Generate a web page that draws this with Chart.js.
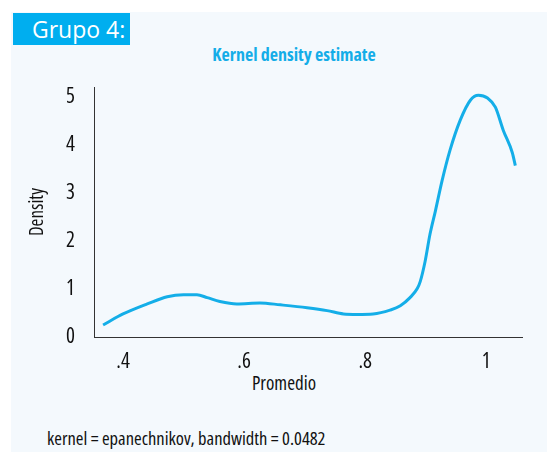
<!DOCTYPE html>
<html>
<head>
<meta charset="utf-8">
<script src="https://cdn.jsdelivr.net/npm/chart.js@4/dist/chart.umd.min.js"></script>
<style>
  html, body { margin: 0; padding: 0; background: #ffffff; }
  #wrap { position: relative; width: 547px; height: 457px; overflow: hidden; }
  #panel { position: absolute; left: 11px; top: 12px; width: 536px; height: 440px; background: #f4f9fd; }
  #tag { position: absolute; left: 13px; top: 13px; width: 117px; height: 32px; background: #00aeef; white-space: nowrap;
         color: #fff; font: 23px "Open Sans", sans-serif; line-height: 32px;
         box-sizing: border-box; padding-left: 19px; }
  .txt { position: absolute; font-family: "Open Sans", sans-serif; font-stretch: condensed; white-space: nowrap; }
  #title { left: 144px; width: 300px; top: 44px; text-align: center; line-height: 20px;
           color: #14ade8; font-size: 18px; font-weight: bold; }
  #xlab { left: 184px; width: 200px; top: 373px; text-align: center; line-height: 20px; color: #111; font-size: 19px; }
  #note { left: 47px; top: 428px; line-height: 20px; color: #111; font-size: 18.5px; }
  canvas { position: absolute; left: 0; top: 0; }
</style>
</head>
<body>
<div id="wrap">
  <div id="panel"></div>
  <div id="tag">Grupo 4:</div>
  <div id="title" class="txt">Kernel density estimate</div>
  <div id="xlab" class="txt">Promedio</div>
  <div id="note" class="txt">kernel = epanechnikov, bandwidth = 0.0482</div>
  <canvas id="kde" width="547" height="457"></canvas>
</div>
<script>
// values
const promedio = [0.367, 0.40, 0.44, 0.473, 0.50, 0.522, 0.539, 0.56, 0.588, 0.626, 0.66, 0.704,
                  0.737, 0.764, 0.787, 0.813, 0.841, 0.858, 0.874, 0.886, 0.891, 0.899, 0.907,
                  0.916, 0.927, 0.94, 0.957, 0.974, 0.987, 1.002, 1.015, 1.028, 1.043, 1.048];
const density = [0.25, 0.48, 0.69, 0.84, 0.88, 0.88, 0.82, 0.74, 0.69, 0.71, 0.67, 0.61,
                 0.55, 0.48, 0.47, 0.48, 0.56, 0.65, 0.82, 1.01, 1.16, 1.58, 2.14,
                 2.63, 3.26, 3.89, 4.52, 4.94, 5.04, 4.98, 4.79, 4.31, 3.84, 3.57];
const xTicks = [0.4, 0.6, 0.8, 1];
const yTicks = [0, 1, 2, 3, 4, 5];

(function(){
    'use strict';
    // 'condensed' goes in the weight slot so the canvas font string picks the narrow Open Sans width
    const family = '"Open Sans", sans-serif';
    const tickFont = { family: family, size: 21, weight: 'condensed' };
    Chart.defaults.color = '#111';

    const points = promedio.map((x, i) => ({ x: x, y: density[i] }));

    new Chart(document.getElementById('kde'), {
        type: 'line',
        data: {
            datasets: [{
                data: points,
                borderColor: '#14aee8',
                borderWidth: 3,
                pointRadius: 0,
                fill: false,
                cubicInterpolationMode: 'monotone'
            }]
        },
        options: {
            responsive: false,
            animation: false,
            layout: { padding: { left: 0, right: 25, top: 87, bottom: 50 } },
            plugins: { legend: { display: false }, tooltip: { enabled: false } },
            scales: {
                x: {
                    type: 'linear',
                    min: 0.352, max: 1.059,
                    grid: { display: false, drawTicks: false },
                    border: { display: true, color: '#333', width: 1 },
                    afterBuildTicks: s => { s.ticks = xTicks.map(v => ({ value: v })); },
                    afterFit: s => { s.height = 70; },
                    ticks: {
                        padding: 12,
                        font: tickFont,
                        callback: v => String(v).replace(/^0\./, '.')
                    }
                },
                y: {
                    min: 0, max: 5.21,
                    grid: { display: false, drawTicks: false },
                    border: { display: true, color: '#333', width: 1 },
                    afterBuildTicks: s => { s.ticks = yTicks.map(v => ({ value: v })); },
                    afterFit: s => { s.width = 94; },
                    ticks: { padding: 19, font: tickFont },
                    title: {
                        display: true, text: 'Density',
                        font: { family: family, size: 19, weight: 'condensed' },
                        padding: { top: 26, bottom: 0 }
                    }
                }
            }
        }
    });
})();
</script>
</body>
</html>
